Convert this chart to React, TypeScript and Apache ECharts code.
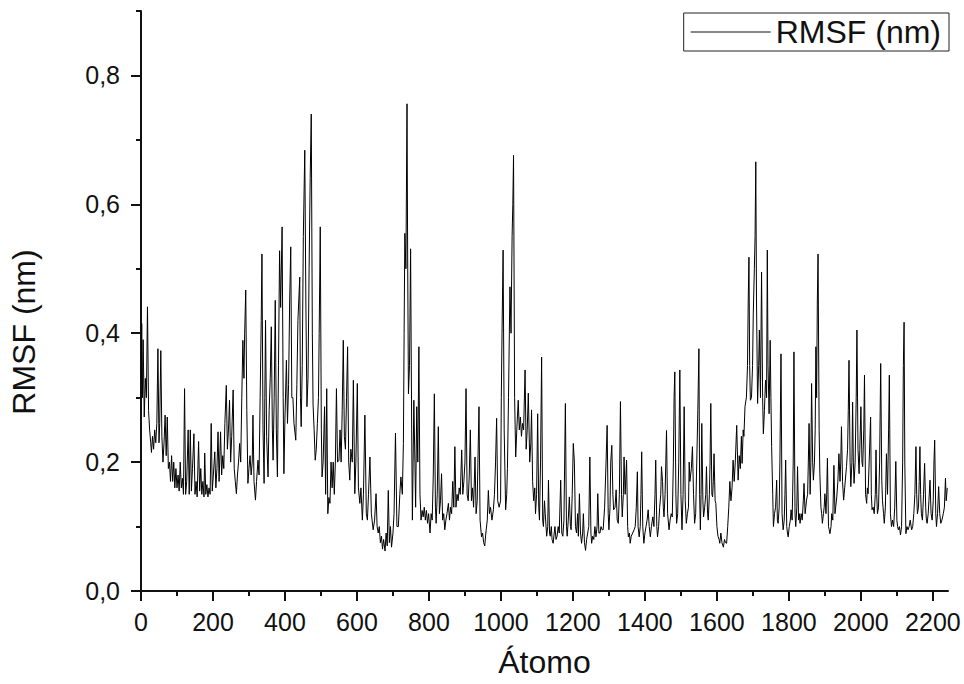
import React, { useEffect, useRef } from "react";
import * as echarts from "echarts";

// RMSF (nm) per atom: [atom, value]
const segA: [number, number][] = [
  [0,0.33],[2,0.415],[4,0.3],[6,0.39],[9,0.27],[12,0.33],[15,0.3],[18,0.441],[21,0.28],[24,0.25],[27,0.23],[29,0.215],[32,0.24],[35,0.22],[38,0.25],[41,0.23],[44,0.26],[47,0.376],[50,0.23],[52,0.26],[55,0.373],[58,0.24],[61,0.2],[64,0.23],[67,0.273],[70,0.21],[73,0.27],[76,0.19],[79,0.2],[82,0.17],[85,0.21],[88,0.17],[91,0.2],[94,0.16],[97,0.19],[100,0.16],[103,0.18],[106,0.155],[109,0.2],[112,0.16],[115,0.175],[118,0.15],[121,0.314],[124,0.15],[127,0.17],[131,0.25],[134,0.15],[137,0.25],[140,0.155],[143,0.19],[147,0.244],[150,0.15],[153,0.17],[156,0.146],[160,0.232],[163,0.155],[166,0.19],[169,0.15],[172,0.17],[175,0.146],[177,0.214],[180,0.15],[183,0.165],[186,0.146],[189,0.16],[192,0.15],[195,0.26],[198,0.155],[201,0.18],[205,0.216],[208,0.16],[211,0.19],[214,0.247],[217,0.17],[221,0.247],[224,0.18],[227,0.21],[230,0.19],[233,0.26],[237,0.319],[240,0.22],[243,0.25],[246,0.296],[249,0.2],[252,0.24],[256,0.312],[259,0.19],[262,0.17],[265,0.151],[268,0.18],[271,0.2],[274,0.229],[277,0.2],[280,0.3],[283,0.389],[286,0.33],[288,0.4],[291,0.467],[294,0.28],[297,0.167],[300,0.19],[303,0.21],[306,0.18],[309,0.2],[311,0.273],[314,0.17],[318,0.141],[321,0.17],[325,0.203],[328,0.18],[331,0.3],[334,0.42],[336,0.523],[339,0.25],[342,0.167],[344,0.3],[346,0.42],[349,0.24],[353,0.177],[356,0.28],[359,0.33],[362,0.41],[365,0.25],[367,0.203],[370,0.3],[373,0.451],[376,0.25],[379,0.177],[382,0.35],[385,0.528],[388,0.44],[392,0.565],[395,0.3],[397,0.182],[400,0.27],[404,0.358],[407,0.26],[410,0.32],[413,0.45],[416,0.534],[419,0.3],[422,0.3],[425,0.26],[430,0.234],[433,0.32],[436,0.42],[441,0.487],[443,0.3],[445,0.255],[448,0.35],[451,0.55],[455,0.684],[458,0.45],[461,0.286],[464,0.33],[467,0.5],[470,0.64],[473,0.74],[476,0.4],[478,0.29],[481,0.25],[484,0.203],[487,0.22],[490,0.26],[493,0.3],[495,0.4],[498,0.565],[501,0.25],[503,0.177],[506,0.2],[510,0.286],[513,0.15],[516,0.314],[519,0.12],[522,0.145],[525,0.136],[528,0.2],[531,0.16],[534,0.2],[537,0.15],[540,0.2]
];

const segB: [number, number][] = [
  [543,0.314],[546,0.2],[550,0.203],[553,0.25],[556,0.2],[559,0.28],[562,0.389],[565,0.24],[568,0.22],[571,0.3],[574,0.379],[577,0.2],[580,0.172],[583,0.22],[587,0.2],[590,0.327],[594,0.151],[597,0.2],[601,0.322],[604,0.16],[608,0.136],[611,0.16],[615,0.11],[618,0.15],[622,0.273],[626,0.12],[629,0.11],[632,0.15],[636,0.208],[640,0.12],[645,0.095],[649,0.11],[653,0.151],[656,0.1],[659,0.09],[662,0.1],[665,0.075],[668,0.085],[671,0.065],[674,0.08],[678,0.062],[681,0.09],[684,0.07],[687,0.156],[690,0.075],[693,0.1],[696,0.068],[700,0.09],[703,0.12],[707,0.245],[711,0.1],[715,0.1],[719,0.15],[722,0.177],[726,0.15],[729,0.229],[731,0.4],[733,0.555],[736,0.5],[739,0.756],[741,0.5],[743,0.306],[746,0.35],[749,0.531],[752,0.25],[754,0.11],[756,0.2],[758,0.296],[761,0.2],[763,0.13],[766,0.286],[769,0.2],[772,0.379],[775,0.15],[778,0.11],[781,0.125],[784,0.115],[787,0.13],[790,0.11],[793,0.125],[796,0.105],[799,0.12],[803,0.09],[806,0.12],[809,0.11],[812,0.18],[815,0.306],[818,0.13],[820,0.105],[823,0.15],[826,0.255],[829,0.12],[832,0.14],[835,0.182],[838,0.11],[841,0.12],[844,0.095],[847,0.11],[850,0.12],[854,0.136],[857,0.11],[860,0.13],[863,0.12],[866,0.17],[869,0.13],[872,0.224],[875,0.13],[878,0.15],[881,0.14],[884,0.16],[887,0.15],[891,0.219],[894,0.15],[897,0.17],[900,0.2],[903,0.314],[906,0.15],[909,0.14],[912,0.18],[915,0.25],[918,0.14],[921,0.16],[924,0.13],[928,0.208],[931,0.12],[934,0.14],[936,0.2],[939,0.286],[942,0.11],[946,0.084],[949,0.09],[952,0.075],[955,0.07],[958,0.09],[962,0.11],[965,0.156],[968,0.12],[971,0.13],[975,0.11],[979,0.126],[982,0.15],[985,0.2],[988,0.268],[991,0.14],[995,0.13],[999,0.14],[1001,0.3],[1003,0.4],[1006,0.529],[1009,0.25],[1013,0.126],[1016,0.15],[1018,0.19],[1021,0.3],[1025,0.472],[1028,0.4],[1031,0.55],[1033,0.6],[1035,0.676],[1038,0.3],[1041,0.208],[1044,0.25],[1048,0.296],[1051,0.25],[1054,0.27],[1057,0.24],[1060,0.26],[1063,0.25]
];

const segC: [number, number][] = [
  [1067,0.343],[1070,0.22],[1073,0.25],[1076,0.307],[1080,0.2],[1083,0.23],[1085,0.281],[1088,0.17],[1091,0.14],[1094,0.16],[1096,0.12],[1099,0.15],[1102,0.275],[1105,0.13],[1107,0.11],[1110,0.2],[1113,0.363],[1116,0.11],[1118,0.1],[1121,0.14],[1123,0.12],[1127,0.085],[1130,0.1],[1132,0.172],[1135,0.09],[1137,0.085],[1140,0.1],[1142,0.08],[1145,0.074],[1148,0.09],[1150,0.1],[1153,0.08],[1156,0.085],[1159,0.1],[1162,0.09],[1166,0.172],[1169,0.09],[1172,0.085],[1175,0.11],[1179,0.291],[1182,0.1],[1184,0.085],[1187,0.11],[1190,0.146],[1193,0.1],[1195,0.095],[1198,0.15],[1201,0.229],[1204,0.2],[1207,0.1],[1210,0.09],[1213,0.12],[1215,0.085],[1218,0.151],[1221,0.09],[1224,0.074],[1227,0.09],[1229,0.12],[1232,0.075],[1235,0.063],[1238,0.08],[1241,0.09],[1244,0.1],[1247,0.208],[1250,0.09],[1252,0.074],[1255,0.085],[1258,0.08],[1261,0.1],[1264,0.084],[1267,0.1],[1269,0.151],[1272,0.09],[1275,0.09],[1278,0.1],[1281,0.095],[1284,0.095],[1288,0.13],[1292,0.2],[1295,0.257],[1298,0.12],[1300,0.095],[1303,0.13],[1305,0.2],[1308,0.226],[1311,0.15],[1313,0.126],[1317,0.13],[1320,0.157],[1323,0.11],[1326,0.105],[1329,0.15],[1332,0.294],[1335,0.15],[1337,0.115],[1340,0.15],[1342,0.208],[1345,0.15],[1349,0.203],[1352,0.1],[1354,0.084],[1357,0.09],[1359,0.074],[1362,0.085],[1366,0.09],[1370,0.095],[1373,0.1],[1376,0.13],[1379,0.185],[1381,0.1],[1384,0.084],[1387,0.1],[1389,0.15],[1391,0.216],[1394,0.1],[1397,0.074],[1400,0.09],[1403,0.1],[1406,0.11],[1409,0.126],[1412,0.1],[1415,0.084],[1418,0.1],[1422,0.115],[1425,0.1],[1428,0.15],[1430,0.203],[1433,0.1],[1435,0.084],[1438,0.1],[1441,0.13],[1444,0.15],[1446,0.193],[1449,0.17],[1451,0.13],[1453,0.115],[1456,0.15],[1458,0.2],[1460,0.249],[1463,0.12],[1467,0.095],[1470,0.11],[1473,0.12],[1476,0.115],[1479,0.2],[1481,0.3],[1483,0.34],[1486,0.15],[1488,0.105],[1491,0.12],[1494,0.2],[1497,0.343],[1500,0.15],[1503,0.095],[1506,0.15],[1509,0.286],[1512,0.14],[1515,0.105],[1518,0.12],[1521,0.13],[1523,0.2],[1525,0.17],[1529,0.19],[1532,0.224],[1535,0.15],[1538,0.105],[1541,0.12],[1544,0.2],[1547,0.28],[1550,0.376],[1552,0.15],[1554,0.095],[1556,0.15],[1558,0.26],[1561,0.14],[1563,0.115],[1566,0.13],[1569,0.15],[1571,0.193],[1574,0.12],[1576,0.11],[1579,0.15],[1581,0.2],[1583,0.291],[1586,0.15],[1588,0.146],[1590,0.17],[1592,0.213],[1595,0.14],[1597,0.136],[1600,0.1],[1603,0.085],[1606,0.08],[1608,0.074],[1611,0.09],[1614,0.075],[1618,0.068],[1621,0.08],[1624,0.075],[1627,0.074],[1630,0.1],[1633,0.13],[1636,0.17],[1639,0.14],[1642,0.16],[1645,0.203],[1648,0.17],[1651,0.2],[1655,0.257]
];

const segD: [number, number][] = [
  [1659,0.172],[1662,0.21],[1665,0.19],[1668,0.24],[1670,0.198],[1673,0.25],[1675,0.24],[1678,0.286],[1682,0.301],[1685,0.35],[1687,0.45],[1689,0.518],[1691,0.35],[1693,0.296],[1696,0.3],[1699,0.35],[1701,0.43],[1704,0.5],[1706,0.55],[1708,0.666],[1710,0.45],[1713,0.291],[1716,0.35],[1718,0.405],[1721,0.3],[1724,0.495],[1727,0.3],[1729,0.244],[1732,0.28],[1735,0.327],[1738,0.3],[1740,0.529],[1742,0.35],[1745,0.275],[1748,0.389],[1750,0.3],[1752,0.224],[1755,0.15],[1757,0.1],[1760,0.12],[1763,0.13],[1766,0.172],[1768,0.11],[1770,0.105],[1773,0.13],[1775,0.2],[1778,0.368],[1781,0.12],[1784,0.095],[1787,0.11],[1789,0.15],[1791,0.203],[1794,0.1],[1796,0.09],[1798,0.084],[1801,0.1],[1804,0.11],[1806,0.126],[1809,0.11],[1812,0.2],[1814,0.371],[1817,0.12],[1819,0.1],[1822,0.13],[1824,0.193],[1827,0.11],[1829,0.12],[1831,0.105],[1834,0.12],[1837,0.11],[1840,0.14],[1842,0.167],[1845,0.12],[1847,0.13],[1849,0.141],[1852,0.15],[1854,0.2],[1856,0.26],[1859,0.15],[1861,0.2],[1863,0.322],[1866,0.2],[1868,0.172],[1871,0.2],[1873,0.25],[1875,0.379],[1877,0.3],[1879,0.45],[1881,0.523],[1884,0.25],[1886,0.182],[1889,0.13],[1891,0.12],[1893,0.105],[1896,0.12],[1898,0.13],[1900,0.151],[1903,0.12],[1905,0.15],[1907,0.206],[1910,0.1],[1912,0.095],[1914,0.089],[1917,0.1],[1919,0.12],[1922,0.11],[1925,0.195],[1928,0.12],[1930,0.13],[1933,0.146],[1936,0.17],[1939,0.213],[1942,0.17],[1944,0.2],[1946,0.255],[1949,0.17],[1952,0.141],[1955,0.16],[1958,0.18],[1960,0.193],[1963,0.22],[1965,0.28],[1967,0.358],[1970,0.2],[1972,0.162],[1975,0.2],[1977,0.293],[1979,0.2],[1981,0.167],[1984,0.2],[1987,0.3],[1989,0.405],[1992,0.22],[1995,0.182],[1997,0.22],[2000,0.286],[2003,0.2],[2005,0.193],[2008,0.25],[2010,0.335],[2013,0.15],[2016,0.136],[2018,0.16],[2020,0.151],[2023,0.2],[2027,0.27],[2029,0.15],[2031,0.126],[2034,0.13],[2037,0.12],[2040,0.15],[2042,0.219],[2044,0.15],[2046,0.12],[2049,0.13],[2052,0.2],[2055,0.353],[2058,0.172],[2060,0.14],[2063,0.12],[2065,0.105],[2068,0.13],[2071,0.213],[2074,0.15],[2077,0.25],[2079,0.335],[2082,0.12],[2085,0.1],[2088,0.11],[2091,0.1],[2094,0.13],[2097,0.201],[2100,0.11],[2102,0.1],[2104,0.095],[2107,0.1],[2110,0.087],[2113,0.1],[2116,0.2],[2118,0.35],[2120,0.417],[2122,0.2],[2125,0.089],[2128,0.1],[2131,0.095],[2134,0.1],[2137,0.11],[2141,0.095],[2144,0.1],[2147,0.12],[2150,0.15],[2153,0.224],[2155,0.15],[2157,0.12],[2160,0.13],[2162,0.17],[2164,0.224],[2166,0.15],[2168,0.12],[2171,0.11],[2174,0.15],[2177,0.198],[2180,0.13],[2182,0.11],[2184,0.105],[2187,0.12],[2189,0.14],[2192,0.172],[2195,0.12],[2198,0.11],[2201,0.14],[2203,0.2],[2205,0.234],[2208,0.12],[2210,0.1],[2213,0.12],[2216,0.162],[2219,0.12],[2222,0.105],[2225,0.11],[2229,0.12],[2232,0.13],[2235,0.175],[2237,0.14],[2240,0.16]
];

const xMajorTicks = [0, 200, 400, 600, 800, 1000, 1200, 1400, 1600, 1800, 2000, 2200];
const xMinorTicks = [100, 300, 500, 700, 900, 1100, 1300, 1500, 1700, 1900, 2100];
const yMajorTicks = [0, 0.2, 0.4, 0.6, 0.8];
const yMinorTicks = [0.1, 0.3, 0.5, 0.7, 0.9];

const seriesName = "RMSF (nm)";
const xTitle = "Átomo";
const yTitle = "RMSF (nm)";

const FONT = "'Liberation Sans', Arial, sans-serif";
const INK = "#111";

export default function App() {
  const ref = useRef<HTMLDivElement>(null);
  useEffect(() => {
    if (!ref.current) return;
    const chart = echarts.init(ref.current, null, { renderer: "svg" });
    const data = [...segA, ...segB, ...segC, ...segD];
    const X_MAX = 2242;
    const Y_MAX = 0.9;
    chart.setOption({
      animation: false,
      backgroundColor: "#fff",
      grid: { left: 141, right: 16, top: 11, bottom: 93 },
      legend: {
        data: [{ name: seriesName, icon: "rect" }],
        right: 15,
        top: 13,
        borderColor: "#222",
        borderWidth: 1,
        borderRadius: 0,
        padding: [3, 8, 3, 7],
        itemWidth: 80,
        itemHeight: 1,
        itemStyle: { color: INK, borderWidth: 0 },
        textStyle: { fontSize: 32, fontFamily: FONT, color: INK },
      },
      xAxis: [
        {
          type: "value",
          min: 0,
          max: X_MAX,
          position: "bottom",
          name: xTitle,
          nameLocation: "middle",
          nameGap: 55,
          nameTextStyle: { fontSize: 32, fontFamily: FONT, color: INK },
          axisLine: { show: true, lineStyle: { color: INK, width: 2 } },
          axisTick: { show: true, length: 10, customValues: xMajorTicks, lineStyle: { color: INK, width: 2 } },
          axisLabel: {
            customValues: xMajorTicks,
            margin: 18,
            fontSize: 25,
            fontFamily: FONT,
            color: INK,
            formatter: (v: number) => String(v),
          },
          splitLine: { show: false },
        },
        {
          type: "value",
          min: 0,
          max: X_MAX,
          position: "bottom",
          axisLine: { show: false },
          axisTick: { show: true, length: 5, customValues: xMinorTicks, lineStyle: { color: INK, width: 2 } },
          axisLabel: { show: false },
          splitLine: { show: false },
        },
      ],
      yAxis: [
        {
          type: "value",
          min: 0,
          max: Y_MAX,
          position: "left",
          axisLine: { show: true, lineStyle: { color: INK, width: 2 } },
          axisTick: { show: true, length: 10, customValues: yMajorTicks, lineStyle: { color: INK, width: 2 } },
          axisLabel: {
            customValues: yMajorTicks,
            margin: 21,
            fontSize: 25,
            fontFamily: FONT,
            color: INK,
            formatter: (v: number) => v.toFixed(1).replace(".", ","),
          },
          splitLine: { show: false },
        },
        {
          type: "value",
          min: 0,
          max: Y_MAX,
          position: "left",
          axisLine: { show: false },
          axisTick: { show: true, length: 5, customValues: yMinorTicks, lineStyle: { color: INK, width: 2 } },
          axisLabel: { show: false },
          splitLine: { show: false },
        },
      ],
      graphic: [
        {
          type: "text",
          x: 24,
          y: 332,
          rotation: Math.PI / 2,
          style: {
            text: yTitle,
            fontSize: 32,
            fontFamily: FONT,
            fill: INK,
            align: "center",
            verticalAlign: "middle",
          },
        },
      ],
      series: [
        {
          name: seriesName,
          type: "line",
          xAxisIndex: 0,
          yAxisIndex: 0,
          data,
          symbol: "none",
          showSymbol: false,
          lineStyle: { color: "#000", width: 1 },
          itemStyle: { color: INK },
        },
      ],
    });
    return () => chart.dispose();
  }, []);
  return (
    <div
      ref={ref}
      style={{ position: "fixed", left: 0, top: 0, width: 964, height: 684, background: "#fff" }}
    />
  );
}
